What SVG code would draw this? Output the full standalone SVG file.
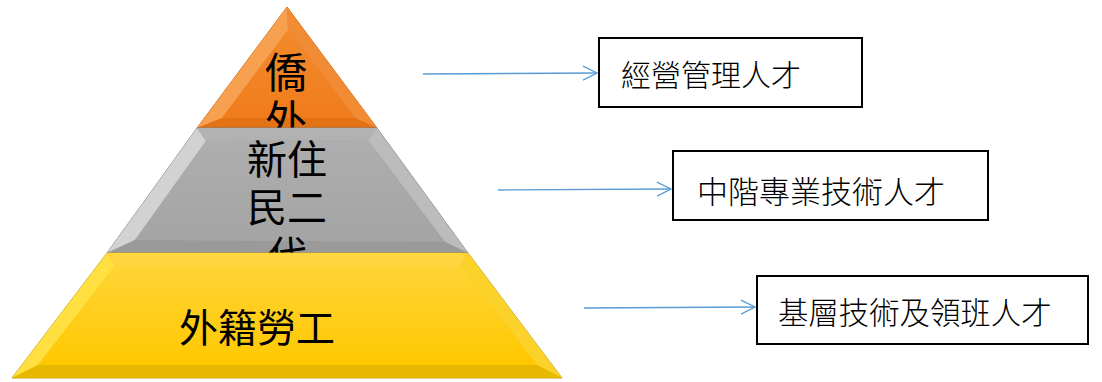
<svg xmlns="http://www.w3.org/2000/svg" width="1102" height="382" viewBox="0 0 1102 382">
<defs>
<style>
.cjk{font-family:"Noto Sans CJK TC","Noto Sans CJK SC",sans-serif;fill:#000}
.lbl{font-size:30px;font-weight:300}
.box{fill:#fff;stroke:#000;stroke-width:2}
.arr{stroke:#5B9BD5;stroke-width:1.3;fill:none}
</style>
<marker id="ah" viewBox="0 0 16 16" refX="15" refY="8" markerWidth="16" markerHeight="16" markerUnits="userSpaceOnUse" orient="auto">
<path d="M1,1 L15,8 L1,15" fill="none" stroke="#5B9BD5" stroke-width="1.3"/>
</marker>
<linearGradient id="gO" x1="0" y1="0" x2="0" y2="1">
<stop offset="0" stop-color="#F38A2C"/><stop offset="1" stop-color="#F07C1C"/>
</linearGradient>
<linearGradient id="gG" x1="0" y1="0" x2="0" y2="1">
<stop offset="0" stop-color="#AEAEAE"/><stop offset="1" stop-color="#A4A4A4"/>
</linearGradient>
<linearGradient id="gY" x1="0" y1="0" x2="0" y2="1">
<stop offset="0" stop-color="#FFD435"/><stop offset="1" stop-color="#FFC800"/>
</linearGradient>
</defs>

<g id="tier-top">
<polygon points="287,7 197,128 377,128" fill="#E8761C" stroke="#C9661C" stroke-width="1"/>
<polygon points="287,7 288,30 222,118 197,128" fill="#F7A050"/>
<polygon points="287,7 377,128 355,118 288,30" fill="#F28C34"/>
<polygon points="197,128 222,118 355,118 377,128" fill="#E27214"/>
<polygon points="288,30 222,118 355,118" fill="url(#gO)"/>
<text class="cjk" font-size="42" text-anchor="middle" dominant-baseline="central"><tspan x="286" y="69">僑</tspan><tspan x="286" y="117">外</tspan></text>
</g>

<g id="tier-middle">
<polygon points="197,128 377,128 468,253 107,253" fill="#A0A0A0" stroke="#808080" stroke-width="1"/>
<polygon points="197,128 206,141 135,240 107,253" fill="#D2D2D2"/>
<polygon points="377,128 468,253 445,242 368,140" fill="#BCBCBC"/>
<polygon points="197,128 377,128 368,140 206,141" fill="#B2B2B2"/>
<polygon points="107,253 135,240 445,242 468,253" fill="#9A9A9A"/>
<polygon points="206,141 368,140 445,242 135,240" fill="url(#gG)"/>
<text class="cjk" font-size="40" text-anchor="middle" dominant-baseline="central"><tspan x="287" y="157">新住</tspan><tspan x="287" y="205">民二</tspan><tspan x="287" y="253">代</tspan></text>
</g>

<g id="tier-bottom">
<polygon points="107,253 468,253 562,378 12,378" fill="#F2C000" stroke="#B89A20" stroke-width="1"/>
<polygon points="107,253 115,266 38,365 12,378" fill="#FFE040"/>
<polygon points="468,253 562,378 537,365 460,266" fill="#FAD22A"/>
<polygon points="107,253 468,253 460,266 115,266" fill="#FFD640"/>
<polygon points="12,378 38,365 537,365 562,378" fill="#E8B800"/>
<polygon points="115,266 460,266 537,365 38,365" fill="url(#gY)"/>
<text class="cjk" x="257" y="325" font-size="39" text-anchor="middle" dominant-baseline="central">外籍勞工</text>
</g>

<g id="connectors">
<line class="arr" x1="423" y1="74" x2="597" y2="73" marker-end="url(#ah)"/>
<line class="arr" x1="498" y1="190" x2="671" y2="189" marker-end="url(#ah)"/>
<line class="arr" x1="584" y1="308" x2="755" y2="307" marker-end="url(#ah)"/>
</g>

<g id="box-management">
<rect class="box" x="599" y="38" width="263" height="69"/>
<text class="cjk lbl" x="621" y="73" dominant-baseline="central">經營管理人才</text>
</g>
<g id="box-professional">
<rect class="box" x="673" y="151" width="315" height="69"/>
<text class="cjk lbl" x="697" y="189" dominant-baseline="central" style="font-size:31px">中階專業技術人才</text>
</g>
<g id="box-basic">
<rect class="box" x="757" y="276" width="331" height="68"/>
<text class="cjk lbl" x="778" y="311" dominant-baseline="central" style="font-size:30.4px">基層技術及領班人才</text>
</g>
</svg>
